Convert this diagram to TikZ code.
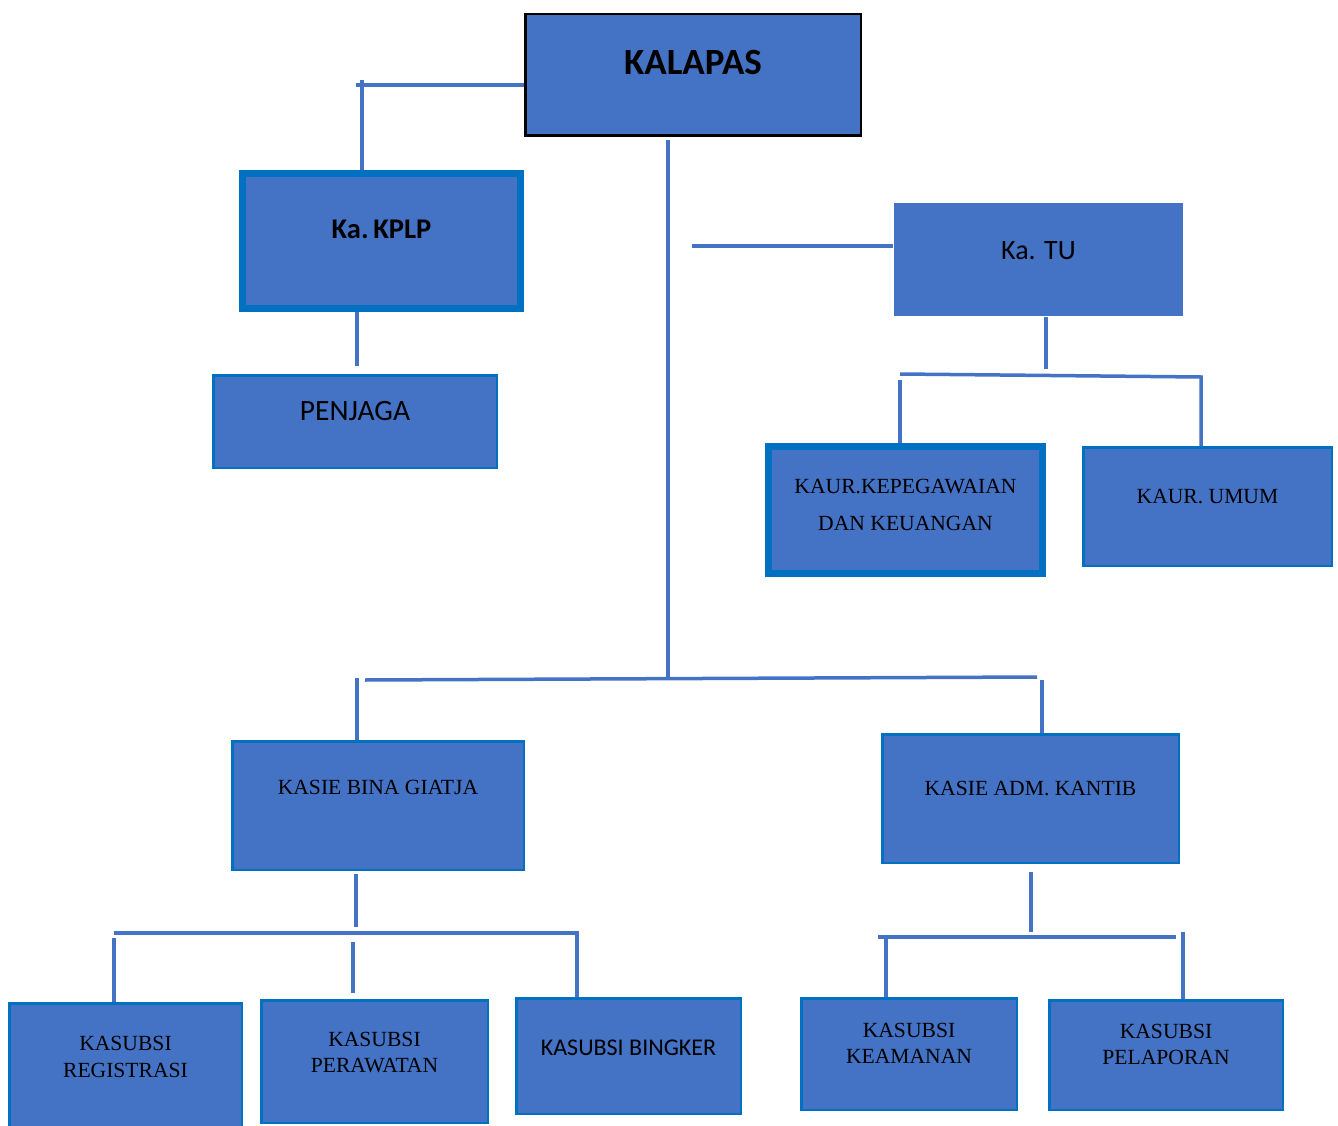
\documentclass[tikz,border=0pt]{standalone}
\usepackage{fontspec}
\newfontfamily\orgsans{Carlito}
\newfontfamily\orgserif{Liberation Serif}
\usetikzlibrary{positioning}

\definecolor{boxblue}{HTML}{4472C4}
\definecolor{edgeblue}{HTML}{0070C0}
\definecolor{lineblue}{HTML}{4472C4}

\newcommand{\twolines}[2]{\begin{tabular}[t]{@{}c@{}}#1\\#2\end{tabular}}

\tikzset{
  unit/.style={rectangle, fill=boxblue, draw=edgeblue, line width=2.5pt,
    inner sep=0pt, anchor=north, text=black},
  head unit/.style={unit, draw=black},
  thick unit/.style={unit, line width=7pt},
  plain unit/.style={unit, draw=none},
  place/.style n args={3}{minimum width=#1, text height=#2, text depth=#3},
  link/.style={draw=lineblue, line width=3.5pt},
  sans/.style={font=\orgsans\fontsize{#1}{#1}\selectfont},
  serif/.style={font=\orgserif\fontsize{21.6}{#1}\selectfont},
}

\begin{document}
\begin{tikzpicture}[x=1pt, y=-1pt]
  \useasboundingbox (0,0) rectangle (1338,1126);

  % Define nodes
  \node[head unit, place={335.5pt}{60.75pt}{60.75pt},
        font=\orgsans\bfseries\fontsize{37}{37}\selectfont] (kalapas) at (693,13) {KALAPAS};
  \node[thick unit, place={278pt}{64.5pt}{70.5pt},
        font=\orgsans\bfseries\fontsize{28.5}{28.5}\selectfont] (kplp) at (381.5,170) {Ka.\,KPLP};
  \node[unit, place={283.5pt}{44.75pt}{47.75pt}, sans=29.5,
        below=62pt of kplp, xshift=-26.5pt] (penjaga) {PENJAGA};
  \node[plain unit, place={289pt}{55.75pt}{57pt}, sans=28] (katu) at (1038.5,202) {Ka. TU};
  \node[thick unit, place={274pt}{46.5pt}{80.5pt}, serif=37] (kaurpeg) at (905.5,443)
        {\twolines{KAUR.KEPEGAWAIAN}{DAN KEUANGAN}};
  \node[unit, place={248.5pt}{55.75pt}{62.75pt}, serif=26] (kaurumum) at (1207.5,446) {KAUR. UMUM};
  \node[unit, place={291.5pt}{52.75pt}{75.75pt}, serif=26] (kasiebina) at (378,740) {KASIE BINA GIATJA};
  \node[unit, place={296.5pt}{60.75pt}{67.75pt}, serif=26] (kasieadm) at (1030.5,733) {KASIE ADM. KANTIB};
  \node[unit, place={232.5pt}{46.75pt}{85pt}, serif=27] (kasreg) at (125.5,1002)
        {\twolines{KASUBSI}{REGISTRASI}};
  \node[unit, place={226.5pt}{45.75pt}{76.75pt}, serif=26] (kasrawat) at (374.5,999)
        {\twolines{KASUBSI}{PERAWATAN}};
  \node[unit, place={224.5pt}{56.75pt}{58.75pt}, sans=24] (kasbing) at (628.5,997) {KASUBSI BINGKER};
  \node[unit, place={215.5pt}{38.75pt}{72.75pt}, serif=26] (kasaman) at (909,997)
        {\twolines{KASUBSI}{KEAMANAN}};
  \node[unit, place={233.5pt}{37.75pt}{71.75pt}, serif=26] (kaslapor) at (1166,999)
        {\twolines{KASUBSI}{PELAPORAN}};

  % Joints and loose ends
  \coordinate (lk)   at (356,85);
  \coordinate (lkv)  at (362,80);
  \coordinate (pj)   at (357,366);
  \coordinate (trunk) at (668,678);
  \coordinate (tu)   at (692,246);
  \coordinate (tud)  at (1046,369);
  \coordinate (kl)   at (900,374);
  \coordinate (kr)   at (1201,377);
  \coordinate (klv)  at (900,380);
  \coordinate (bl)   at (365,680);
  \coordinate (br)   at (1037,677);
  \coordinate (bv)   at (357,678);
  \coordinate (av)   at (1042,680);
  \coordinate (bd)   at (356,927);
  \coordinate (gl)   at (114,933);
  \coordinate (gr)   at (577,933);
  \coordinate (glv)  at (114,938);
  \coordinate (gm)   at (353,942);
  \coordinate (gmb)  at (353,993);
  \coordinate (ad)   at (1031,932);
  \coordinate (hl)   at (878,937);
  \coordinate (hr)   at (1176,937);
  \coordinate (hlv)  at (886,937);
  \coordinate (hrv)  at (1183,932);

  % Connect the nodes
  \draw[link] (lk -| kalapas.west) -- (lk);
  \draw[link] (lkv) -- (lkv |- kplp.north);
  \draw[link] (pj |- kplp.south) -- (pj);
  \draw[link] ([yshift=-3pt]trunk |- kalapas.south) -- (trunk);
  \draw[link] (tu) -- (tu -| katu.west);
  \draw[link] (tud |- katu.south) -- (tud);
  \draw[link] (kl) -- (kr) -- (kr |- kaurumum.north);
  \draw[link] (klv) -- (klv |- kaurpeg.north);
  \draw[link] (bl) -- (br);
  \draw[link] (bv) -- (bv |- kasiebina.north);
  \draw[link] (av) -- (av |- kasieadm.north);
  \draw[link] ([yshift=-3pt]bd |- kasiebina.south) -- (bd);
  \draw[link] (gl) -- (gr) -- (gr |- kasbing.north);
  \draw[link] (glv) -- (glv |- kasreg.north);
  \draw[link] (gm) -- (gmb);
  \draw[link] ([yshift=-8pt]ad |- kasieadm.south) -- (ad);
  \draw[link] (hl) -- (hr);
  \draw[link] (hlv) -- (hlv |- kasaman.north);
  \draw[link] (hrv) -- (hrv |- kaslapor.north);

\end{tikzpicture}
\end{document}
